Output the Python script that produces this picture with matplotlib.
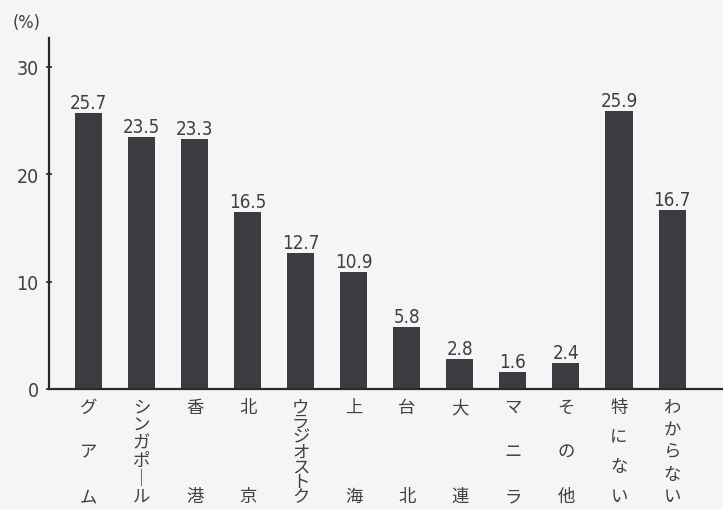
import matplotlib.pyplot as plt
from matplotlib.transforms import blended_transform_factory

# data
labels = ["グアム", "シンガポール", "香港", "北京", "ウラジオストク", "上海",
          "台北", "大連", "マニラ", "その他", "特にない", "わからない"]
values = [25.7, 23.5, 23.3, 16.5, 12.7, 10.9, 5.8, 2.8, 1.6, 2.4, 25.9, 16.7]
y_ticks = [0, 10, 20, 30]

bg = "#f4f5f4"
bar_color = "#3b3c42"
text_color = "#404040"
num_font = dict(family="DejaVu Sans", fontstretch="condensed", color=text_color)
cjk_font = dict(family=["Noto Sans CJK JP", "DejaVu Sans"], color=text_color)

fig = plt.figure(figsize=(7.23, 5.10), dpi=100, facecolor=bg)
ax_h_px = 351
ax = fig.add_axes([49 / 723, 120 / 510, 1 - 49 / 723, ax_h_px / 510])
ax.set_facecolor(bg)

x = range(len(values))
ax.bar(x, values, width=0.51, color=bar_color, edgecolor="none")

for i, v in zip(x, values):
    ax.text(i, v + 0.45, f"{v:.1f}", ha="center", va="baseline", fontsize=13.5, **num_font)

ax.set_xlim(-0.745, 11.96)
ax.set_ylim(0, 32.7)
ax.set_yticks(y_ticks)
ax.set_yticklabels([str(t) for t in y_ticks], fontsize=14, **num_font)
ax.set_xticks([])
ax.tick_params(axis="y", direction="inout", length=5, width=1.2, color="#2a2a2a", pad=5)

for side in ("top", "right"):
    ax.spines[side].set_visible(False)
for side in ("left", "bottom"):
    ax.spines[side].set_color("#2a2a2a")
    ax.spines[side].set_linewidth(1.6)

# vertical category labels: one stacked text per label, justified so the
# first character sits at the top row and the last at the bottom row
trans = blended_transform_factory(ax.transData, ax.transAxes)
y_top, y_bot = -0.051, -0.305
span_px = (y_top - y_bot) * ax_h_px
renderer = fig.canvas.get_renderer()
label_size = 12.5


def stacked(lab):
    # "ー" stays horizontal in a plain stack, swap for a vertical bar
    return "\n".join("｜" if ch == "ー" else ch for ch in lab)


for i, lab in enumerate(labels):
    n = len(lab)
    t = ax.text(i, (y_top + y_bot) / 2 if n > 1 else y_top, stacked(lab),
                transform=trans, ha="center", va="center", fontsize=label_size,
                clip_on=False, **cjk_font)
    if n > 1:
        t.set_linespacing(1.0)
        h1 = t.get_window_extent(renderer).height
        t.set_linespacing(2.0)
        h2 = t.get_window_extent(renderer).height
        one = ax.text(0, 0, lab[0], fontsize=label_size, **cjk_font)
        h_single = one.get_window_extent(renderer).height
        one.remove()
        target = span_px + h_single
        ls = 1.0 + (target - h1) / (h2 - h1)
        t.set_linespacing(ls)

fig.text(13 / 723, 1 - 23 / 510, "(%)", ha="left", va="center", fontsize=13, **num_font)

fig.savefig("out.png", dpi=100, facecolor=bg)
